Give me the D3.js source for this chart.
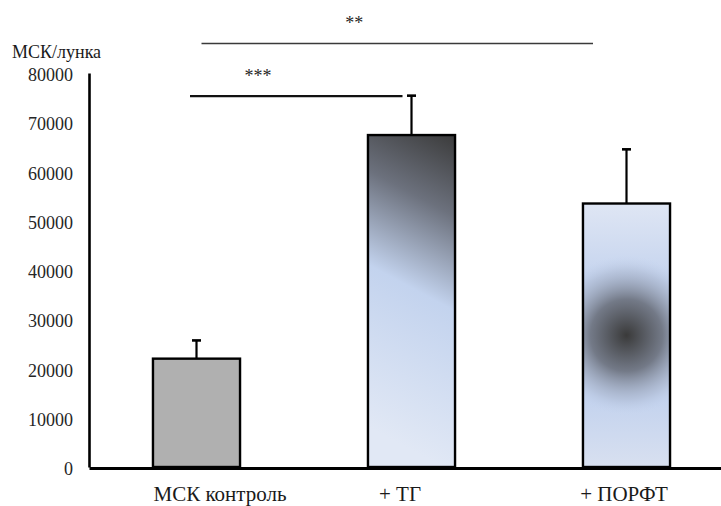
<!DOCTYPE html>
<html>
<head>
<meta charset="utf-8">
<script src="https://cdn.jsdelivr.net/npm/d3@7"></script>
<style>
	html, body { margin: 0; padding: 0; background: #fff; }
</style>
</head>
<body>
<div id="chart"></div>
<script>
// data
const categories = ['МСК контроль', '+ ТГ', '+ ПОРФТ'];
const means = [22000, 67400, 53500];
const errors = [3700, 8000, 11000];
const yTicks = [0, 10000, 20000, 30000, 40000, 50000, 60000, 70000, 80000];
const yLabel = 'МСК/лунка';

// significance brackets: [from, to] category index, level in y units
const sigPairs = [[0, 1], [0, 2]];
const sigLevels = [75300, 86000];
const sigLabels = ['***', '**'];

// layout tweaks
const serif = 'Liberation Serif';
const labelShift = [23.5, -11.5, -2.5];
const sigEnds = [[-6.5, -9], [5, -33.5]];
const sigTextAt = [0.32, 0.39];
const sigStroke = [{ w: 2.2, c: '#111' }, { w: 1.4, c: '#3a3a3a' }];

let dimensions = {
	width: 721,
	height: 506,
	margins: { top: 73, right: -13, bottom: 39, left: 89 }
};
dimensions.boundedWidth = dimensions.width - dimensions.margins.left - dimensions.margins.right;
dimensions.boundedHeight = dimensions.height - dimensions.margins.top - dimensions.margins.bottom;

const svg = d3.select('#chart')
	.append('svg')
		.attr('width', dimensions.width)
		.attr('height', dimensions.height);

const defs = svg.append('defs');

const bounds = svg.append('g')
	.attr('transform', `translate(${dimensions.margins.left},${dimensions.margins.top})`);

const xScale = d3.scaleBand()
	.domain(categories)
	.range([0, dimensions.boundedWidth])
	.paddingInner(0.595)
	.paddingOuter(0.2975);

const yScale = d3.scaleLinear()
	.domain([0, 80000])
	.range([dimensions.boundedHeight, 0]);

// gradients
const g2 = defs.append('linearGradient')
	.attr('id', 'fillTG')
	.attr('x1', 1).attr('y1', 0)
	.attr('x2', 0.86).attr('y2', 1);
[[0, '#3b3b3b'], [0.24, '#6c717d'], [0.52, '#c3d3ee'], [1, '#e1e8f5']].forEach(s => {
	g2.append('stop').attr('offset', s[0]).attr('stop-color', s[1]);
});

const g3 = defs.append('linearGradient')
	.attr('id', 'fillPORFT')
	.attr('x1', 0).attr('y1', 0)
	.attr('x2', 0).attr('y2', 1);
[[0, '#dfe6f4'], [0.3, '#c4d3ee'], [0.75, '#c4d3ee'], [1, '#d8e0f0']].forEach(s => {
	g3.append('stop').attr('offset', s[0]).attr('stop-color', s[1]);
});

const r3 = defs.append('radialGradient')
	.attr('id', 'spotPORFT')
	.attr('gradientUnits', 'userSpaceOnUse')
	.attr('cx', xScale(categories[2]) + xScale.bandwidth() / 2)
	.attr('cy', yScale(means[2] / 2))
	.attr('r', 80);
[[0, '#3a3a3a', 1], [0.45, '#6f7582', 0.95], [0.8, '#a6b2c9', 0.5], [1, '#c3d3ee', 0]].forEach(s => {
	r3.append('stop').attr('offset', s[0]).attr('stop-color', s[1]).attr('stop-opacity', s[2]);
});

const fills = ['#b0b0b0', 'url(#fillTG)', 'url(#fillPORFT)'];

const barData = categories.map((c, i) => ({ c, i, v: means[i], e: errors[i] }));

// error bars (behind bars)
const err = bounds.append('g');
err.selectAll('line.stem')
	.data(barData)
	.join('line')
		.attr('x1', d => xScale(d.c) + xScale.bandwidth() / 2)
		.attr('x2', d => xScale(d.c) + xScale.bandwidth() / 2)
		.attr('y1', d => yScale(d.v))
		.attr('y2', d => yScale(d.v + d.e))
		.attr('stroke', '#000')
		.attr('stroke-width', 2.2);
err.selectAll('line.cap')
	.data(barData)
	.join('line')
		.attr('x1', d => xScale(d.c) + xScale.bandwidth() / 2 - 4.5)
		.attr('x2', d => xScale(d.c) + xScale.bandwidth() / 2 + 4.5)
		.attr('y1', d => yScale(d.v + d.e))
		.attr('y2', d => yScale(d.v + d.e))
		.attr('stroke', '#000')
		.attr('stroke-width', 2.6);

// bars
bounds.selectAll('rect.bar')
	.data(barData)
	.join('rect')
		.attr('class', 'bar')
		.attr('x', d => xScale(d.c))
		.attr('y', d => yScale(d.v))
		.attr('width', xScale.bandwidth())
		.attr('height', d => yScale(0) - yScale(d.v))
		.attr('fill', d => fills[d.i]);

bounds.append('rect')
	.attr('x', xScale(categories[2]))
	.attr('y', yScale(means[2]))
	.attr('width', xScale.bandwidth())
	.attr('height', yScale(0) - yScale(means[2]))
	.attr('fill', 'url(#spotPORFT)');

bounds.selectAll('rect.outline')
	.data(barData)
	.join('rect')
		.attr('class', 'outline')
		.attr('x', d => xScale(d.c))
		.attr('y', d => yScale(d.v))
		.attr('width', xScale.bandwidth())
		.attr('height', d => yScale(0) - yScale(d.v))
		.attr('fill', 'none')
		.attr('stroke', '#000')
		.attr('stroke-width', 2.4);

// Draw Axes
const yAxisGenerator = d3.axisLeft()
	.scale(yScale)
	.tickValues(yTicks)
	.tickSize(0)
	.tickSizeOuter(0)
	.tickPadding(16)
	.tickFormat(d3.format('d'));

const yAxis = bounds.append('g')
	.call(yAxisGenerator);
yAxis.select('.domain')
	.attr('stroke', '#000')
	.attr('stroke-width', 2.6);
yAxis.selectAll('text')
	.attr('font-family', serif)
	.attr('font-size', 18)
	.attr('fill', '#262626')
	.attr('dy', '0.42em');

const xAxisGenerator = d3.axisBottom()
	.scale(xScale)
	.tickSize(0)
	.tickSizeOuter(0)
	.tickFormat('');

const xAxis = bounds.append('g')
	.attr('transform', `translate(0,${dimensions.boundedHeight + 1})`)
	.call(xAxisGenerator);
xAxis.select('.domain')
	.attr('stroke', '#000')
	.attr('stroke-width', 3);

// category labels
bounds.selectAll('text.cat')
	.data(categories)
	.join('text')
		.attr('class', 'cat')
		.attr('x', (d, i) => xScale(d) + xScale.bandwidth() / 2 + labelShift[i])
		.attr('y', dimensions.boundedHeight + 34)
		.attr('text-anchor', 'middle')
		.attr('font-family', serif)
		.attr('font-size', 21)
		.attr('fill', '#1a1a1a')
		.text(d => d);

// Y Axis Label
svg.append('text')
	.attr('x', 12)
	.attr('y', 58)
	.attr('font-family', serif)
	.attr('font-size', 18)
	.attr('fill', '#1a1a1a')
	.text(yLabel);

// significance
sigPairs.forEach((p, i) => {
	const x1 = xScale(categories[p[0]]) + xScale.bandwidth() / 2 + sigEnds[i][0];
	const x2 = xScale(categories[p[1]]) + xScale.bandwidth() / 2 + sigEnds[i][1];
	const y = yScale(sigLevels[i]);
	bounds.append('line')
		.attr('x1', x1)
		.attr('x2', x2)
		.attr('y1', y)
		.attr('y2', y)
		.attr('stroke', sigStroke[i].c)
		.attr('stroke-width', sigStroke[i].w);
	bounds.append('text')
		.attr('x', x1 + (x2 - x1) * sigTextAt[i])
		.attr('y', y - 14)
		.attr('text-anchor', 'middle')
		.attr('font-family', serif)
		.attr('font-size', 18)
		.attr('fill', '#262626')
		.text(sigLabels[i]);
});
</script>
</body>
</html>
